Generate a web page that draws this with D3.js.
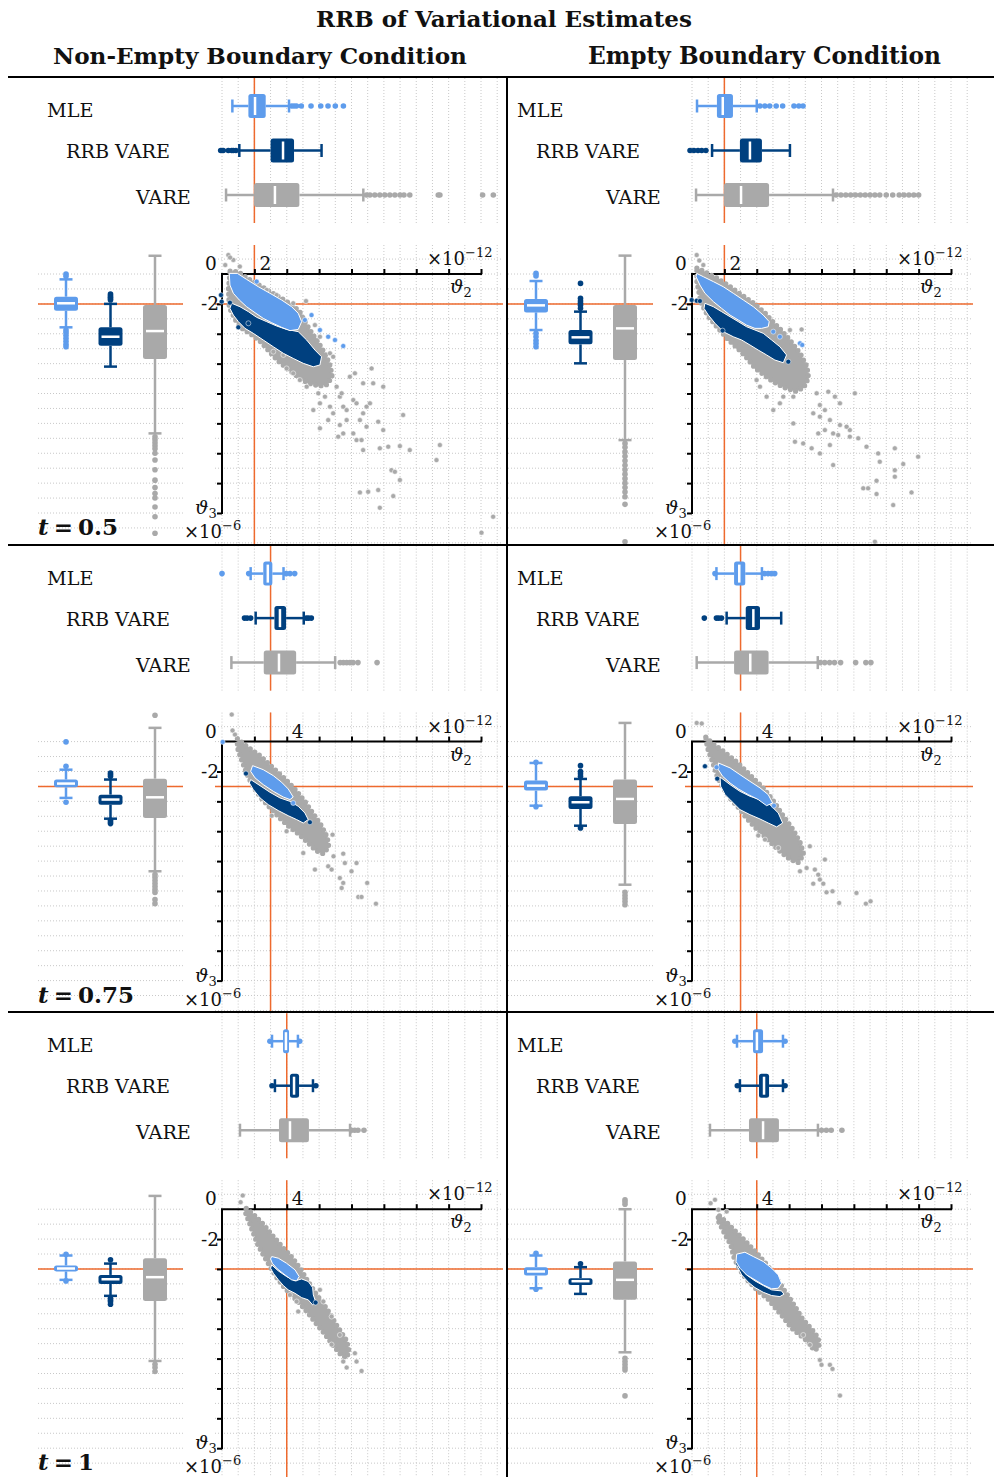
<!DOCTYPE html>
<html>
<head>
<meta charset="utf-8">
<script src="https://cdn.jsdelivr.net/npm/d3@7"></script>
<style>
  body { margin: 0; background: #fff; }
  svg { display: block; }
  text { font-family: "DejaVu Serif", serif; fill: #111; }
</style>
</head>
<body>
<script>
// ---------- labels and reference values ----------
const conditions = ["Non-Empty Boundary Condition", "Empty Boundary Condition"];
const timePoints = ["0.5", "0.75", "1"];
const methods = ["MLE", "RRB VARE", "VARE"];
const trueTheta2 = [2, 3, 4];        // ×10^-12, one per time point
const trueTheta3 = [-2, -3, -4];     // ×10^-6, one per time point
const theta2TickLabel = [2, 4, 4];   // labelled tick on the ϑ2 axis
const theta2Ticks = [0, 2, 4, 6, 8, 10, 12, 14, 16];
const theta3Ticks = [0, -2, -4, -6, -8, -10, -12, -14, -16];

// ---------- box-plot summaries: [lowWhisker, q1, median, q3, highWhisker, outliers] ----------
// ϑ2 (horizontal boxes above each scatter), rows: MLE, RRB VARE, VARE
const theta2Box_NE05 = [
  [0.64, 1.63, 2.04, 2.70, 4.14, [4.3, 4.45, 4.6, 4.9, 5.5, 6.1, 6.55, 7.0, 7.5]],
  [1.07, 3.0, 3.77, 4.45, 6.15, [-0.08, 0.08, 0.39, 0.6, 0.7, 0.86]],
  [0.25, 1.98, 3.27, 4.78, 8.73, [8.93, 9.14, 9.44, 9.75, 10.06, 10.37, 10.68, 11.0, 11.24, 11.6, 13.36, 13.46, 16.1, 16.76]]
];
const theta2Box_E05 = [
  [0.31, 1.54, 1.9, 2.53, 4.0, [4.2, 4.5, 4.8, 5.2, 5.6, 6.3, 6.6, 6.86]],
  [1.24, 2.96, 3.58, 4.32, 6.05, [-0.12, 0.12, 0.37, 0.6, 0.86]],
  [0.25, 1.98, 3.03, 4.76, 8.71, [8.9, 9.2, 9.5, 9.8, 10.1, 10.4, 10.7, 11.0, 11.3, 11.6, 12.0, 12.4, 12.8, 13.1, 13.4, 13.7, 14.0]]
];
const theta2Box_NE075 = [
  [1.77, 2.55, 2.83, 3.11, 3.80, [0.0, 1.65, 3.96, 4.2, 4.49]],
  [2.08, 3.24, 3.58, 3.96, 5.05, [1.39, 1.55, 1.77, 5.21, 5.35, 5.52]],
  [0.58, 2.58, 3.52, 4.58, 6.99, [7.3, 7.5, 7.7, 7.9, 8.1, 8.4, 9.58]]
];
const theta2Box_E075 = [
  [1.51, 2.60, 2.92, 3.29, 4.32, [1.42, 4.48, 4.7, 4.9, 5.11]],
  [2.14, 3.32, 3.79, 4.20, 5.51, [0.76, 1.51, 1.65, 1.82]],
  [0.29, 2.60, 3.60, 4.73, 7.77, [7.93, 8.2, 8.5, 8.8, 9.18, 10.11, 10.74, 11.05]]
];
const theta2Box_NE1 = [
  [3.09, 3.77, 3.95, 4.14, 4.69, [2.96, 4.8]],
  [3.27, 4.2, 4.45, 4.76, 5.62, [3.09, 5.8]],
  [1.11, 3.52, 4.2, 5.37, 7.91, [8.0, 8.2, 8.4, 8.77]]
];
const theta2Box_E1 = [
  [2.78, 3.77, 4.01, 4.39, 5.62, [2.65, 5.75]],
  [2.96, 4.14, 4.45, 4.76, 5.62, [2.8, 5.75]],
  [1.11, 3.52, 4.39, 5.37, 7.78, [8.0, 8.3, 8.6, 9.26]]
];

// ϑ3 (vertical boxes left of each scatter)
const theta3Box_NE05 = [
  [-3.57, -2.46, -1.96, -1.52, -0.36, [0, -0.15, -3.75, -3.9, -4.1, -4.3, -4.5, -4.7, -4.87]],
  [-6.2, -4.8, -4.2, -3.57, -2.0, [-1.34, -1.45, -1.55, -1.65, -1.74]],
  [-10.67, -5.69, -3.82, -2.07, 1.22, [-10.9, -11.1, -11.3, -11.5, -11.7, -12.0, -12.45, -13.1, -13.8, -14.3, -14.7, -15.0, -15.6, -16.25, -17.36]]
];
const theta3Box_E05 = [
  [-3.75, -2.57, -2.10, -1.67, -0.47, [0.04, -0.13, -3.97, -4.2, -4.45, -4.65, -4.87]],
  [-5.98, -4.71, -4.24, -3.75, -2.52, [-0.63, -1.63, -1.8, -1.95, -2.1, -2.3]],
  [-11.12, -5.76, -3.64, -2.08, 1.23, [-11.34, -11.6, -11.9, -12.2, -12.5, -12.8, -13.1, -13.4, -13.7, -14.0, -14.3, -14.6, -14.91, -15.42, -17.92]]
];
const theta3Box_NE075 = [
  [-3.77, -3.06, -2.81, -2.54, -1.88, [-0.02, -1.65, -4.06]],
  [-5.16, -4.22, -3.88, -3.55, -2.54, [-2.10, -2.2, -2.32, -5.27, -5.38, -5.49]],
  [-8.68, -5.11, -3.73, -2.48, 0.92, [1.76, -8.9, -9.1, -9.3, -9.5, -9.7, -9.9, -10.1, -10.58, -10.85]]
];
const theta3Box_E075 = [
  [-4.29, -3.28, -2.95, -2.61, -1.43, [-1.38, -4.36]],
  [-5.63, -4.51, -4.06, -3.66, -2.5, [-1.61, -2.0, -2.15, -2.32, -5.78]],
  [-9.58, -5.51, -3.84, -2.54, 1.25, [-10.09, -10.3, -10.5, -10.7, -10.92]]
];
const theta3Box_NE1 = [
  [-4.73, -4.17, -3.97, -3.77, -3.10, [-3.02, -4.8]],
  [-5.80, -5.0, -4.69, -4.40, -3.64, [-3.39, -5.96, -6.1, -6.2, -6.36]],
  [-10.16, -6.14, -4.55, -3.28, 0.89, [-10.38, -10.6, -10.87]]
];
const theta3Box_E1 = [
  [-5.29, -4.44, -4.17, -3.88, -3.10, [-2.95, -5.36]],
  [-5.67, -5.07, -4.82, -4.62, -3.88, [-3.66]],
  [-9.58, -6.07, -4.73, -3.50, 0.0, [0.63, 0.5, 0.33, -9.98, -10.2, -10.4, -10.6, -10.76, -12.5]]
];

// ---------- joint estimates (ϑ2, ϑ3): dense cores as outlines, sparse estimates as points ----------
const mleHull_NE05 = [[0.45,0.04],[0.95,0.04],[1.52,-0.36],[2.24,-0.85],[2.96,-1.29],[3.68,-1.74],[4.30,-2.19],[4.71,-2.63],[4.92,-3.19],[4.71,-3.71],[4.20,-3.79],[3.68,-3.57],[3.07,-3.26],[2.55,-2.97],[2.04,-2.59],[1.52,-2.19],[1.07,-1.74],[0.70,-1.29],[0.49,-0.74]];
const mlePts_NE05 = [[2.14,-0.51],[5.12,-3.08],[5.53,-2.75],[6.05,-3.75],[6.56,-4.2],[6.98,-4.42],[7.49,-4.82]];
const rrbHull_NE05 = [[0.60,-1.96],[1.11,-2.19],[1.63,-2.52],[2.14,-2.90],[2.76,-3.19],[3.37,-3.48],[3.99,-3.71],[4.71,-3.86],[5.23,-4.42],[5.74,-5.09],[6.15,-5.54],[6.05,-6.09],[5.64,-6.21],[5.02,-5.98],[4.40,-5.65],[3.79,-5.31],[3.17,-4.87],[2.55,-4.42],[1.93,-3.97],[1.42,-3.64],[1.01,-3.19],[0.70,-2.75],[0.49,-2.30]];
const rrbPts_NE05 = [[-0.06,-1.41],[-0.02,-1.85],[0.49,-1.92],[1.01,-3.57],[1.63,-3.30]];
const varHull_NE05 = [[0.5,0.2],[1.0,0.15],[1.6,-0.3],[2.3,-0.75],[3.0,-1.2],[3.7,-1.65],[4.4,-2.1],[4.85,-2.6],[5.15,-3.25],[5.55,-3.95],[6.05,-4.75],[6.45,-5.5],[6.7,-6.2],[6.8,-6.85],[6.5,-7.4],[6.0,-7.5],[5.3,-7.3],[4.6,-6.8],[4.0,-6.3],[3.4,-5.75],[2.9,-5.15],[2.4,-4.55],[1.9,-4.1],[1.3,-3.7],[0.85,-3.1],[0.45,-2.25],[0.4,-1.0]];
const varPts_NE05 = [[0.39,1.27],[0.70,0.94],[0.5,1.1],[0.2,0.6],[1.1,0.5],[2.76,-1.07],[3.37,-1.41],[4.40,-1.96],[5.74,-3.42],[6.05,-4.2],[6.67,-5.31],[6.87,-5.54],[5.19,-1.81],[3.17,-5.20],[3.79,-5.42],[3.99,-6.32],[4.40,-6.65],[4.81,-7.10],[5.23,-7.54],[5.95,-7.99],[6.05,-8.66],[6.36,-8.21],[7.08,-7.54],[7.28,-8.21],[7.49,-8.88],[7.70,-9.11],[8.11,-8.44],[8.31,-8.66],[8.52,-9.78],[8.72,-9.33],[8.93,-8.88],[9.14,-8.66],[9.24,-6.32],[8.21,-6.65],[8.72,-7.32],[9.34,-7.32],[9.96,-7.54],[8.93,-10.22],[9.65,-9.89],[9.96,-10.45],[9.75,-11.67],[10.27,-11.56],[10.99,-11.52],[11.60,-11.79],[11.19,-9.44],[13.46,-11.45],[13.25,-12.46],[10.47,-13.13],[10.68,-13.24],[10.99,-13.79],[8.52,-14.62],[9.03,-14.58],[9.65,-14.46],[10.58,-14.87],[9.75,-15.65],[16.75,-16.25],[16.03,-17.32],[6.05,-10.33],[6.56,-9.78],[6.87,-9.33],[7.28,-10.11],[7.49,-10.67],[7.18,-10.89],[8.11,-10.67],[8.31,-11.12],[8.62,-11.12],[8.72,-11.79],[7.70,-9.78],[5.64,-9.11],[7.90,-6.88],[7.39,-7.99],[6.67,-8.88]];

const mleHull_E05 = [[0.29,0.04],[0.70,-0.18],[1.32,-0.51],[1.93,-0.85],[2.55,-1.29],[3.17,-1.74],[3.79,-2.19],[4.40,-2.75],[4.77,-3.19],[4.71,-3.53],[4.30,-3.64],[3.89,-3.64],[3.37,-3.42],[2.86,-3.08],[2.35,-2.75],[1.83,-2.30],[1.32,-1.85],[0.80,-1.29],[0.49,-0.74],[0.25,-0.18]];
const mlePts_E05 = [[5.02,-3.86],[5.43,-4.20],[6.67,-4.64],[6.81,-4.75]];
const rrbHull_E05 = [[0.80,-1.96],[1.32,-2.19],[1.83,-2.52],[2.35,-2.86],[2.86,-3.19],[3.37,-3.53],[3.89,-3.75],[4.40,-3.97],[4.92,-4.42],[5.43,-4.87],[5.84,-5.42],[5.64,-5.94],[5.12,-5.76],[4.61,-5.42],[4.09,-5.09],[3.58,-4.75],[3.07,-4.42],[2.55,-4.20],[1.93,-3.86],[1.42,-3.30],[1.01,-2.75],[0.74,-2.30]];
const rrbPts_E05 = [[-0.02,-1.74],[0.29,-1.79],[0.49,-1.81],[5.95,-5.87],[1.89,-3.79]];
const varHull_E05 = [[0.3,0.4],[0.8,0.15],[1.5,-0.25],[2.3,-0.8],[3.0,-1.35],[3.8,-1.95],[4.5,-2.6],[5.0,-3.2],[5.55,-3.8],[6.1,-4.5],[6.7,-5.35],[7.1,-6.2],[7.2,-6.95],[6.9,-7.6],[6.4,-7.85],[5.7,-7.6],[5.0,-7.2],[4.5,-6.8],[3.9,-6.3],[3.3,-5.5],[2.8,-4.95],[2.2,-4.35],[1.55,-3.55],[0.95,-2.75],[0.55,-1.9],[0.3,-0.5]];
const varPts_E05 = [[0.29,1.27],[0.45,0.9],[0.7,0.6],[6.05,-3.75],[6.77,-3.71],[7.70,-7.99],[8.42,-7.88],[8.83,-8.21],[9.14,-8.66],[10.06,-7.99],[7.90,-8.77],[8.21,-9.11],[8.52,-9.78],[9.14,-10.11],[9.75,-10.45],[8.72,-10.67],[8.21,-10.45],[7.80,-10.67],[6.26,-10.0],[6.36,-11.23],[6.87,-11.34],[7.39,-11.67],[7.90,-12.01],[8.52,-11.45],[8.72,-12.79],[10.27,-11.0],[10.78,-11.56],[11.50,-12.01],[11.60,-12.57],[12.53,-11.67],[13.05,-12.72],[13.97,-12.23],[12.53,-13.13],[12.53,-13.57],[11.40,-13.84],[10.58,-14.35],[10.88,-14.35],[11.40,-14.73],[13.56,-14.62],[12.43,-15.47],[11.30,-17.92],[5.02,-9.11],[5.43,-8.66],[5.64,-8.21],[4.61,-8.21],[3.99,-7.10],[4.20,-7.54],[9.55,-10.22],[9.03,-10.78],[9.75,-10.89],[7.90,-9.55],[7.49,-9.33],[6.26,-8.21]];

const mleHull_NE075 = [[1.89,-1.61],[2.55,-1.88],[3.17,-2.28],[3.68,-2.72],[4.09,-3.17],[4.40,-3.71],[4.20,-3.88],[3.79,-3.71],[3.17,-3.33],[2.55,-2.88],[2.04,-2.43],[1.77,-1.99]];
const mlePts_NE075 = [[0.04,-0.02],[4.40,-4.11]];
const rrbHull_NE075 = [[1.77,-2.54],[2.35,-2.95],[2.96,-3.39],[3.58,-3.77],[4.20,-4.00],[4.71,-4.33],[5.12,-4.78],[5.33,-5.22],[5.02,-5.45],[4.61,-5.22],[4.09,-4.96],[3.48,-4.62],[2.86,-4.22],[2.35,-3.77],[1.93,-3.21],[1.69,-2.77]];
const rrbPts_NE075 = [[1.48,-2.14],[5.43,-5.40]];
const varHull_NE075 = [[0.95,0.2],[1.5,-0.3],[2.3,-0.9],[3.1,-1.7],[3.9,-2.5],[4.6,-3.3],[5.15,-4.05],[5.65,-4.85],[6.15,-5.65],[6.5,-6.4],[6.6,-7.05],[6.25,-7.5],[5.8,-7.3],[5.3,-6.75],[4.7,-6.15],[4.1,-5.65],[3.5,-5.05],[2.9,-4.35],[2.4,-3.75],[1.95,-3.05],[1.55,-2.2],[1.2,-1.2],[0.95,-0.4]];
const varPts_NE075 = [[0.60,1.81],[0.80,0.47],[0.65,0.75],[6.83,-6.23],[7.49,-7.50],[6.89,-7.68],[5.74,-8.57],[6.56,-8.35],[6.77,-8.57],[7.59,-8.13],[8.0,-8.68],[8.31,-8.13],[7.28,-9.13],[7.49,-9.46],[7.39,-9.80],[8.97,-9.46],[8.42,-10.40],[8.62,-10.40],[9.51,-10.85],[5.02,-7.46],[3.99,-6.0],[3.07,-4.96],[5.02,-5.0]];

const mleHull_E075 = [[1.63,-1.43],[2.35,-1.76],[2.96,-2.21],[3.58,-2.66],[4.20,-3.10],[4.71,-3.55],[4.98,-4.11],[4.61,-4.29],[4.09,-3.88],[3.48,-3.55],[2.86,-3.17],[2.35,-2.77],[1.89,-2.32],[1.63,-1.88]];
const mlePts_E075 = [[1.52,-1.72],[5.06,-4.29]];
const rrbHull_E075 = [[1.73,-2.37],[2.35,-2.88],[2.96,-3.33],[3.58,-3.66],[4.20,-3.88],[4.81,-4.22],[5.33,-4.78],[5.60,-5.45],[5.23,-5.71],[4.71,-5.45],[4.20,-5.18],[3.58,-4.89],[2.96,-4.55],[2.45,-4.0],[2.04,-3.55],[1.77,-2.99]];
const rrbPts_E075 = [[0.80,-1.65],[1.56,-2.48]];
const varHull_E075 = [[0.85,0.3],[1.3,-0.15],[2.0,-0.7],[2.8,-1.4],[3.6,-2.25],[4.4,-3.1],[5.05,-4.0],[5.65,-5.0],[6.25,-5.9],[6.7,-6.8],[6.9,-7.55],[6.55,-8.1],[6.1,-7.9],[5.6,-7.5],[5.0,-6.9],[4.4,-6.25],[3.9,-5.75],[3.4,-5.15],[2.9,-4.45],[2.4,-3.85],[1.95,-3.15],[1.55,-2.3],[1.25,-1.3],[0.95,-0.4]];
const varPts_E075 = [[0.29,1.25],[0.60,1.21],[4.09,-6.29],[4.51,-6.56],[7.28,-7.01],[8.21,-7.90],[6.67,-8.68],[7.08,-8.46],[7.59,-8.57],[7.80,-8.91],[7.90,-9.24],[7.49,-9.51],[8.11,-9.51],[8.31,-10.09],[8.68,-10.02],[9.09,-10.80],[10.16,-10.13],[10.74,-10.85],[11.03,-10.69],[5.33,-7.12]];

const mleHull_NE1 = [[3.07,-3.17],[3.48,-3.28],[3.99,-3.62],[4.51,-4.06],[4.77,-4.51],[4.61,-4.80],[4.30,-4.73],[3.89,-4.40],[3.42,-4.0],[3.11,-3.62],[3.0,-3.33]];
const mlePts_NE1 = [];
const rrbHull_NE1 = [[3.07,-3.73],[3.48,-4.13],[3.99,-4.51],[4.51,-4.80],[4.92,-4.67],[5.33,-4.84],[5.60,-5.25],[5.64,-5.74],[5.80,-6.23],[5.60,-6.41],[5.33,-6.07],[4.92,-5.92],[4.51,-5.63],[4.09,-5.40],[3.79,-5.11],[3.48,-4.73],[3.17,-4.29],[3.0,-3.95]];
const rrbPts_NE1 = [[5.78,-6.25]];
const varHull_NE1 = [[1.5,0.05],[1.95,-0.35],[2.55,-1.0],[3.15,-1.8],[3.75,-2.55],[4.35,-3.25],[4.85,-4.0],[5.35,-4.9],[5.9,-5.8],[6.5,-6.7],[7.1,-7.8],[7.7,-8.8],[7.85,-9.5],[7.7,-9.95],[7.35,-9.75],[6.85,-9.1],[6.35,-8.35],[5.85,-7.7],[5.35,-7.0],[4.85,-6.35],[4.35,-5.8],[3.85,-5.25],[3.4,-4.6],[3.0,-3.9],[2.6,-3.15],[2.2,-2.35],[1.9,-1.5],[1.6,-0.65],[1.4,-0.1]];
const varPts_NE1 = [[1.28,0.92],[1.15,0.47],[7.49,-10.20],[7.70,-10.60],[8.31,-10.20],[8.62,-10.83],[8.21,-9.64],[6.77,-9.06],[7.28,-8.42],[4.61,-6.18],[4.20,-5.74],[4.71,-6.85],[6.05,-5.40],[6.26,-6.18],[6.77,-7.19]];

const mleHull_E1 = [[2.76,-3.01],[3.27,-2.88],[3.79,-3.17],[4.40,-3.50],[4.92,-3.95],[5.33,-4.40],[5.53,-4.96],[5.33,-5.29],[4.92,-5.33],[4.40,-5.07],[3.89,-4.73],[3.37,-4.40],[2.96,-3.95],[2.72,-3.50]];
const mlePts_E1 = [];
const rrbHull_E1 = [[2.86,-3.68],[3.37,-4.40],[3.89,-4.80],[4.40,-5.11],[4.92,-5.40],[5.53,-5.47],[5.68,-5.69],[5.43,-5.85],[4.92,-5.78],[4.40,-5.56],[3.89,-5.25],[3.48,-4.89],[3.07,-4.40],[2.80,-3.84]];
const rrbPts_E1 = [[2.86,-3.66]];
const varHull_E1 = [[1.7,-0.45],[2.15,-0.9],[2.75,-1.55],[3.35,-2.2],[4.05,-3.0],[4.65,-3.75],[5.25,-4.65],[5.75,-5.5],[6.3,-6.4],[6.8,-7.3],[7.4,-8.05],[7.8,-8.6],[7.85,-9.25],[7.55,-9.45],[7.15,-8.85],[6.65,-8.4],[6.15,-7.95],[5.65,-7.25],[5.15,-6.6],[4.65,-5.95],[4.1,-5.5],[3.7,-5.05],[3.3,-4.6],[2.9,-3.95],[2.6,-3.25],[2.4,-2.4],[2.05,-1.7],[1.75,-1.05],[1.55,-0.65]];
const varPts_E1 = [[1.15,0.40],[1.42,0.63],[2.14,-0.16],[1.63,-0.04],[7.90,-10.09],[8.0,-10.42],[8.52,-10.42],[8.68,-10.69],[9.14,-12.48],[7.28,-9.08],[6.87,-8.42]];

// ---------- panel table (row = time point, col = boundary condition) ----------
const panels = [
  { row: 0, col: 0, t2: theta2Box_NE05,  t3: theta3Box_NE05,  hulls: [mleHull_NE05,  rrbHull_NE05,  varHull_NE05],  pts: [mlePts_NE05,  rrbPts_NE05,  varPts_NE05] },
  { row: 0, col: 1, t2: theta2Box_E05,   t3: theta3Box_E05,   hulls: [mleHull_E05,   rrbHull_E05,   varHull_E05],   pts: [mlePts_E05,   rrbPts_E05,   varPts_E05] },
  { row: 1, col: 0, t2: theta2Box_NE075, t3: theta3Box_NE075, hulls: [mleHull_NE075, rrbHull_NE075, varHull_NE075], pts: [mlePts_NE075, rrbPts_NE075, varPts_NE075] },
  { row: 1, col: 1, t2: theta2Box_E075,  t3: theta3Box_E075,  hulls: [mleHull_E075,  rrbHull_E075,  varHull_E075],  pts: [mlePts_E075,  rrbPts_E075,  varPts_E075] },
  { row: 2, col: 0, t2: theta2Box_NE1,   t3: theta3Box_NE1,   hulls: [mleHull_NE1,   rrbHull_NE1,   varHull_NE1],   pts: [mlePts_NE1,   rrbPts_NE1,   varPts_NE1] },
  { row: 2, col: 1, t2: theta2Box_E1,    t3: theta3Box_E1,    hulls: [mleHull_E1,    rrbHull_E1,    varHull_E1],    pts: [mlePts_E1,    rrbPts_E1,    varPts_E1] }
];

// ---------- layout & style ----------
const W = 994, H = 1477;
const colShift = [0, 470];
const rowShift = [0, 467.6, 935.2];
const methodColor = ["#5e9cec", "#00407f", "#a9a9a9"];
const refColor = "#ee6a2e";
const gridColor = "#c8c8c8";
const boxThick = 24, capHalf = 6.5, outR = 2.8;

const svg = d3.select("body").append("svg").attr("width", W).attr("height", H);

function fitWidth(sel, target) {
  const len = sel.node().getComputedTextLength();
  const fs = parseFloat(sel.attr("font-size"));
  const nfs = fs * target / len;
  sel.attr("font-size", nfs.toFixed(2));
  return nfs;
}

// headings
fitWidth(svg.append("text").attr("x", 504).attr("y", 27).attr("text-anchor", "middle")
  .attr("font-size", 22).attr("font-weight", "bold").text("RRB of Variational Estimates"), 376);
const headerCenters = [260, 764.5], headerWidths = [414, 353];
conditions.forEach((c, i) => {
  fitWidth(svg.append("text").attr("x", headerCenters[i]).attr("y", 64).attr("text-anchor", "middle")
    .attr("font-size", 24).attr("font-weight", "bold").text(c), headerWidths[i]);
});

// method label font size taken from the widest label
const probe = svg.append("text").attr("font-size", 20).text("RRB VARE");
const labelSize = fitWidth(probe, 104);
probe.remove();
const labelX = [47, 66, 136];
const labelBase = [117, 158, 204];

function hBox(g, s, yc, x, color) {
  const [lo, q1, med, q3, hi, out] = s;
  g.selectAll(null).data(out).join("circle").attr("cx", d => x(d)).attr("cy", yc).attr("r", outR).attr("fill", color);
  const w = g.append("g").attr("stroke", color).attr("stroke-width", 2.5);
  w.append("line").attr("x1", x(lo)).attr("x2", x(q1)).attr("y1", yc).attr("y2", yc);
  w.append("line").attr("x1", x(q3)).attr("x2", x(hi)).attr("y1", yc).attr("y2", yc);
  [lo, hi].forEach(v => w.append("line").attr("x1", x(v)).attr("x2", x(v)).attr("y1", yc - capHalf).attr("y2", yc + capHalf));
  g.append("rect").attr("x", x(q1)).attr("y", yc - boxThick / 2).attr("width", x(q3) - x(q1)).attr("height", boxThick)
    .attr("rx", 2.5).attr("fill", color);
  g.append("line").attr("x1", x(med)).attr("x2", x(med)).attr("y1", yc - boxThick / 2 + 3).attr("y2", yc + boxThick / 2 - 3)
    .attr("stroke", "#fff").attr("stroke-width", 2.5);
}

function vBox(g, s, xc, y, color) {
  const [lo, q1, med, q3, hi, out] = s;
  g.selectAll(null).data(out).join("circle").attr("cx", xc).attr("cy", d => y(d)).attr("r", outR).attr("fill", color);
  const w = g.append("g").attr("stroke", color).attr("stroke-width", 2.5);
  w.append("line").attr("x1", xc).attr("x2", xc).attr("y1", y(lo)).attr("y2", y(q1));
  w.append("line").attr("x1", xc).attr("x2", xc).attr("y1", y(q3)).attr("y2", y(hi));
  [lo, hi].forEach(v => w.append("line").attr("x1", xc - capHalf).attr("x2", xc + capHalf).attr("y1", y(v)).attr("y2", y(v)));
  g.append("rect").attr("x", xc - boxThick / 2).attr("y", y(q3)).attr("width", boxThick).attr("height", y(q1) - y(q3))
    .attr("rx", 2.5).attr("fill", color);
  g.append("line").attr("x1", xc - boxThick / 2 + 3).attr("x2", xc + boxThick / 2 - 3).attr("y1", y(med)).attr("y2", y(med))
    .attr("stroke", "#fff").attr("stroke-width", 2.5);
}

panels.forEach(p => {
  const dx = colShift[p.col], dy = rowShift[p.row];
  const x = d3.scaleLinear().domain([0, 16]).range([222 + dx, 481 + dx]);
  const y = d3.scaleLinear().domain([0, -16]).range([274 + dy, 513 + dy]);
  const yTop = d3.scalePoint().domain(methods).range([106 + dy, 195 + dy]);
  const xLeft = d3.scalePoint().domain(methods).range([66 + dx, 155 + dx]);
  const top = { y0: 78 + dy, y1: 223 + dy };
  const sc = { x0: 215 + dx, x1: 503 + dx, y0: 245 + dy, y1: 545 + dy };
  const left = { x0: 38 + dx, x1: 183 + dx };
  const g = svg.append("g");

  // dotted grids
  const grid = g.append("g").attr("stroke", gridColor).attr("stroke-width", 1).attr("stroke-dasharray", "1,2");
  d3.range(0, 18).forEach(v => {
    grid.append("line").attr("x1", x(v)).attr("x2", x(v)).attr("y1", top.y0).attr("y2", top.y1);
    grid.append("line").attr("x1", x(v)).attr("x2", x(v)).attr("y1", sc.y0).attr("y2", sc.y1);
  });
  d3.range(1, -19, -1).forEach(v => {
    grid.append("line").attr("x1", sc.x0).attr("x2", sc.x1).attr("y1", y(v)).attr("y2", y(v));
  });
  d3.range(0, -18, -1).forEach(v => {
    grid.append("line").attr("x1", left.x0).attr("x2", left.x1).attr("y1", y(v)).attr("y2", y(v));
  });

  // reference (true) values
  const ref = g.append("g").attr("stroke", refColor).attr("stroke-width", 1.5);
  const tx = x(trueTheta2[p.row]), ty = y(trueTheta3[p.row]);
  ref.append("line").attr("x1", tx).attr("x2", tx).attr("y1", top.y0).attr("y2", top.y1);
  ref.append("line").attr("x1", tx).attr("x2", tx).attr("y1", sc.y0).attr("y2", sc.y1);
  ref.append("line").attr("x1", left.x0).attr("x2", left.x1).attr("y1", ty).attr("y2", ty);
  ref.append("line").attr("x1", sc.x0).attr("x2", sc.x1).attr("y1", ty).attr("y2", ty);

  // scatter axes
  const ax = g.append("g");
  ax.append("line").attr("x1", x(0) - 1).attr("x2", x(16) + 1).attr("y1", y(0)).attr("y2", y(0)).attr("stroke", "#000").attr("stroke-width", 2);
  ax.append("line").attr("x1", x(0)).attr("x2", x(0)).attr("y1", y(0)).attr("y2", y(-16) + 1).attr("stroke", "#000").attr("stroke-width", 2);
  ax.append("g").attr("transform", `translate(0,${y(0)})`)
    .call(d3.axisTop(x).tickValues(theta2Ticks.slice(1)).tickSize(5).tickFormat(""))
    .call(s => s.select(".domain").remove())
    .selectAll("line").attr("stroke", "#000").attr("stroke-width", 2);
  ax.append("g").attr("transform", `translate(${x(0)},0)`)
    .call(d3.axisLeft(y).tickValues(theta3Ticks.slice(1)).tickSize(5).tickFormat(""))
    .call(s => s.select(".domain").remove())
    .selectAll("line").attr("stroke", "#000").attr("stroke-width", 2);

  // axis annotations
  g.append("text").attr("x", x(0) - 11).attr("y", y(0) - 4).attr("text-anchor", "middle").attr("font-size", 18.5).text("0");
  g.append("text").attr("x", x(theta2TickLabel[p.row]) + 5).attr("y", y(0) - 4).attr("font-size", 18.5).text(theta2TickLabel[p.row]);
  g.append("text").attr("x", x(0) - 3).attr("y", y(-2) + 6.5).attr("text-anchor", "end").attr("font-size", 18.5).text("-2");
  const e12 = g.append("text").attr("x", x(16) - 54).attr("y", y(0) - 9).attr("font-size", 18);
  e12.append("tspan").text("×10");
  e12.append("tspan").attr("dy", -8).attr("font-size", 13).text("−12");
  const t2l = g.append("text").attr("x", x(16) - 31).attr("y", y(0) + 19).attr("font-size", 19);
  t2l.append("tspan").attr("font-style", "italic").text("ϑ");
  t2l.append("tspan").attr("dy", 4).attr("font-size", 13).text("2");
  const t3l = g.append("text").attr("x", x(0) - 27).attr("y", y(-16) + 1).attr("font-size", 19);
  t3l.append("tspan").attr("font-style", "italic").text("ϑ");
  t3l.append("tspan").attr("dy", 4).attr("font-size", 13).text("3");
  const e6 = g.append("text").attr("x", x(0) - 38).attr("y", y(-16) + 25).attr("font-size", 18);
  e6.append("tspan").text("×10");
  e6.append("tspan").attr("dy", -8).attr("font-size", 13).text("−6");

  // joint estimates: VARE underneath, then RRB VARE, MLE on top
  const hullLine = d3.line().x(d => x(d[0])).y(d => y(d[1])).curve(d3.curveLinearClosed);
  [2, 1, 0].forEach(m => {
    const core = g.append("path").datum(p.hulls[m]).attr("d", hullLine).attr("fill", methodColor[m])
      .attr("stroke-linejoin", "round");
    if (m === 2) {
      // speckled rim made of round dots along the outline
      core.attr("stroke", methodColor[2]).attr("stroke-width", 5.2)
        .attr("stroke-dasharray", "0,5.5").attr("stroke-linecap", "round");
    } else {
      core.attr("stroke", "#fff").attr("stroke-width", 1);
    }
    g.append("g").selectAll("circle").data(p.pts[m]).join("circle")
      .attr("cx", d => x(d[0])).attr("cy", d => y(d[1])).attr("r", 2.5)
      .attr("fill", methodColor[m]).attr("stroke", "#fff").attr("stroke-width", 0.5);
  });

  // marginal box plots
  methods.forEach((m, i) => {
    hBox(g.append("g"), p.t2[i], yTop(m), x, methodColor[i]);
    vBox(g.append("g"), p.t3[i], xLeft(m), y, methodColor[i]);
    g.append("text").attr("x", labelX[i] + dx).attr("y", labelBase[i] + dy).attr("font-size", labelSize.toFixed(2)).text(m);
  });
});

// time labels
timePoints.forEach((t, r) => {
  const txt = svg.append("text").attr("x", 38).attr("y", 535 + rowShift[r]).attr("font-size", 23).attr("font-weight", "bold");
  txt.append("tspan").attr("font-style", "italic").text("t");
  txt.append("tspan").attr("dx", 5).text("=");
  txt.append("tspan").attr("dx", 5).text(t);
});

// frame separators
const sep = svg.append("g").attr("stroke", "#000").attr("stroke-width", 2);
[77, 545, 1012].forEach(yy => sep.append("line").attr("x1", 8).attr("x2", W).attr("y1", yy).attr("y2", yy));
sep.append("line").attr("x1", 507).attr("x2", 507).attr("y1", 77).attr("y2", H);
</script>
</body>
</html>
